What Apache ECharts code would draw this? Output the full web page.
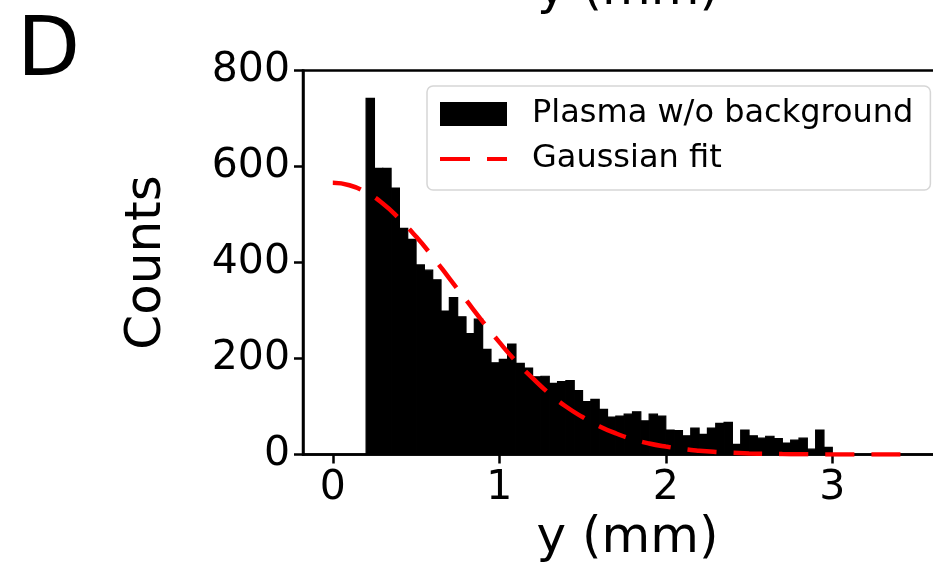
<!DOCTYPE html>
<html>
<head>
<meta charset="utf-8">
<script src="https://cdn.jsdelivr.net/npm/echarts@6/dist/echarts.min.js"></script>
<style>
html,body{margin:0;padding:0;background:#fff;}
#chart{width:933px;height:571px;}
</style>
</head>
<body>
<div id="chart"></div>
<script>
// Histogram bins (left edges, mm) and counts
var binLeft = [0.20,0.25,0.30,0.35,0.40,0.45,0.50,0.55,0.60,0.65,
               0.70,0.75,0.80,0.85,0.90,0.95,1.00,1.05,1.10,1.15,
               1.20,1.25,1.30,1.35,1.40,1.45,1.50,1.55,1.60,1.65,
               1.70,1.75,1.80,1.85,1.90,1.95,2.00,2.05,2.10,2.15,
               2.20,2.25,2.30,2.35,2.40,2.45,2.50,2.55,2.60,2.65,
               2.70,2.75,2.80,2.85,2.90,2.95];
var binWidth = 0.05;
var counts = [742,596,596,555,471,448,395,384,364,299,
              327,287,252,282,219,191,198,230,190,180,
              162,163,148,152,154,133,110,115,94,78,
              80,84,89,70,84,80,51,50,39,55,
              42,55,65,67,21,51,39,34,38,33,
              24,30,34,11,51,15];
// Gaussian fit curve samples
var fitX = [0.0,0.1,0.2,0.3,0.4,0.5,0.6,0.7,0.8,0.9,1.0,1.1,1.2,1.3,1.4,1.5,1.6,1.7,
            1.8,1.9,2.0,2.1,2.2,2.3,2.4,2.5,2.6,2.7,2.8,2.9,3.0,3.1,3.2,3.3,3.4,3.45];
var fitY = [566,561,546,523,491,454,412,367,322,277,234,194,159,127,100,78,59,44,
            32,23,16.5,11.5,7.9,5.3,3.5,2.3,1.4,0.9,0.55,0.33,0.2,0.1,0.06,0.03,0.02,0.01];
var xTicks = [0,1,2,3];

var FONT = 'DejaVu Sans';
var chart = echarts.init(document.getElementById('chart'), null, {renderer:'canvas'});

var histData = binLeft.map(function(x,i){ return [x, x+binWidth, counts[i]]; });
var fitData = fitX.map(function(x,i){ return [x, fitY[i]]; });

var dashIcon = 'path://M0,0h0.01v0.01h-0.01z M0,10h30v4h-30z M47,10h20v4h-20z M66.99,23.99h0.01v0.01h-0.01z';

chart.setOption({
  animation:false,
  backgroundColor:'#fff',
  grid:{left:303, top:70.5, width:649, height:384, outerBoundsMode:'none', containLabel:false,
        show:true, borderColor:'#000', borderWidth:2.5, backgroundColor:'transparent'},
  xAxis:{
    type:'value', min:-0.179, max:3.719,
    name:'y (mm)', nameLocation:'middle', nameGap:60,
    nameTextStyle:{fontFamily:FONT, fontSize:50, color:'#000'},
    axisLine:{show:true, onZero:false, lineStyle:{color:'#000', width:2.5}},
    axisTick:{show:true, length:9, lineStyle:{color:'#000', width:2.5}, customValues:xTicks},
    axisLabel:{fontFamily:FONT, fontSize:41, color:'#000', margin:13, customValues:xTicks},
    splitLine:{show:false}
  },
  yAxis:{
    type:'value', min:0, max:800, interval:200,
    name:'Counts', nameLocation:'middle', nameGap:131,
    nameTextStyle:{fontFamily:FONT, fontSize:50, color:'#000'},
    axisLine:{show:true, onZero:false, lineStyle:{color:'#000', width:2.5}},
    axisTick:{show:true, length:9, lineStyle:{color:'#000', width:2.5}},
    axisLabel:{fontFamily:FONT, fontSize:41, color:'#000', margin:13},
    splitLine:{show:false}
  },
  legend:{
    orient:'vertical', left:427, top:86,
    backgroundColor:'#fff', borderColor:'#d6d6d6', borderWidth:1.5, borderRadius:6,
    padding:[12,17,15,13], itemGap:13, itemWidth:67, itemHeight:24,
    textStyle:{fontFamily:FONT, fontSize:32, color:'#000', padding:[0,0,0,20]},
    data:[{name:'Plasma w/o background', icon:'rect', itemStyle:{color:'#000'}},
          {name:'Gaussian fit', icon:dashIcon, itemStyle:{color:'#ff0000', borderWidth:0}}]
  },
  graphic:[
    {type:'text', left:17, top:13, style:{text:'D', fontFamily:FONT, fontSize:82, fill:'#000'}},
    {type:'text', x:628, y:16, style:{text:'y (mm)', fontFamily:FONT, fontSize:50, fill:'#000', align:'center', verticalAlign:'bottom'}}
  ],
  series:[
    {
      name:'Plasma w/o background', type:'custom',
      itemStyle:{color:'#000'},
      renderItem:function(params, api){
        var p0 = api.coord([api.value(0), api.value(2)]);
        var p1 = api.coord([api.value(1), 0]);
        return {type:'rect', shape:{x:p0[0], y:p0[1], width:p1[0]-p0[0], height:p1[1]-p0[1]},
                style:{fill:'#000', stroke:'#000', lineWidth:1.2}};
      },
      encode:{x:[0,1], y:2},
      data:histData, z:2
    },
    {
      name:'Gaussian fit', type:'line', data:fitData, smooth:true,
      symbol:'none', showSymbol:false,
      lineStyle:{color:'#ff0000', width:4.5, type:[29,17]},
      itemStyle:{color:'#ff0000'}, z:3
    }
  ]
});
</script>
</body>
</html>
